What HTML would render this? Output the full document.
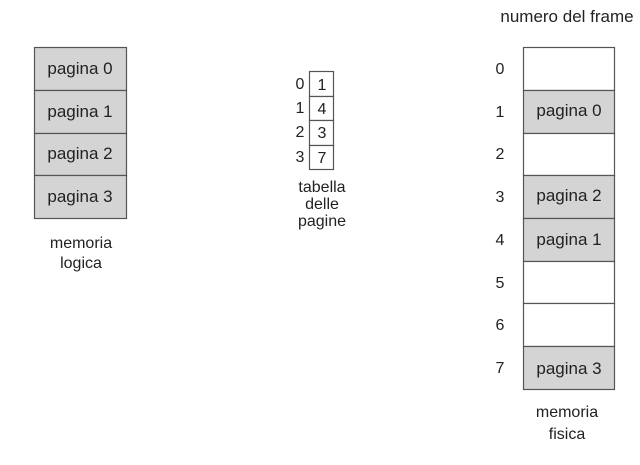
<!DOCTYPE html>
<html><head><meta charset="utf-8"><style>html,body{margin:0;padding:0;background:#fff;}svg{display:block}</style></head>
<body>
<svg width="640" height="465" viewBox="0 0 640 465" xmlns="http://www.w3.org/2000/svg" font-family="Liberation Sans, Arial, sans-serif" font-size="16" fill="#222">
<g stroke="#555" stroke-width="1.2">
<rect x="34.5" y="47.5" width="92" height="43" fill="#d4d4d4"/>
<rect x="34.5" y="90.5" width="92" height="43" fill="#d4d4d4"/>
<rect x="34.5" y="133.5" width="92" height="42" fill="#d4d4d4"/>
<rect x="34.5" y="175.5" width="92" height="43" fill="#d4d4d4"/>
<rect x="309.5" y="71.5" width="24" height="25" fill="#fff"/>
<rect x="309.5" y="96.5" width="24" height="24" fill="#fff"/>
<rect x="309.5" y="120.5" width="24" height="25" fill="#fff"/>
<rect x="309.5" y="145.5" width="24" height="24" fill="#fff"/>
<rect x="523.5" y="47.5" width="91" height="43" fill="#fff"/>
<rect x="523.5" y="90.5" width="91" height="43" fill="#d4d4d4"/>
<rect x="523.5" y="133.5" width="91" height="42" fill="#fff"/>
<rect x="523.5" y="175.5" width="91" height="43" fill="#d4d4d4"/>
<rect x="523.5" y="218.5" width="91" height="43" fill="#d4d4d4"/>
<rect x="523.5" y="261.5" width="91" height="42" fill="#fff"/>
<rect x="523.5" y="303.5" width="91" height="43" fill="#fff"/>
<rect x="523.5" y="346.5" width="91" height="43" fill="#d4d4d4"/>
</g>
<g text-anchor="middle">
<g font-size="17">
<text x="80" y="74">pagina 0</text>
<text x="80" y="117">pagina 1</text>
<text x="80" y="159">pagina 2</text>
<text x="80" y="202">pagina 3</text>
<text x="569" y="116">pagina 0</text>
<text x="569" y="201">pagina 2</text>
<text x="569" y="245">pagina 1</text>
<text x="569" y="374">pagina 3</text>
</g>
<text x="81" y="248">memoria</text>
<text x="81" y="268">logica</text>
<text x="322" y="90">1</text>
<text x="322" y="114">4</text>
<text x="322" y="138">3</text>
<text x="322" y="163">7</text>
<text x="300" y="89">0</text>
<text x="300" y="113">1</text>
<text x="300" y="137">2</text>
<text x="300" y="162">3</text>
<text x="322" y="192">tabella</text>
<text x="322" y="209">delle</text>
<text x="322" y="226">pagine</text>
<text x="500" y="74">0</text>
<text x="500" y="117">1</text>
<text x="500" y="159">2</text>
<text x="500" y="202">3</text>
<text x="500" y="245">4</text>
<text x="500" y="288">5</text>
<text x="500" y="330">6</text>
<text x="500" y="373">7</text>
<text x="567" y="22" font-size="17">numero del frame</text>
<text x="567" y="417">memoria</text>
<text x="567" y="439">fisica</text>
</g>
</svg>
</body></html>
